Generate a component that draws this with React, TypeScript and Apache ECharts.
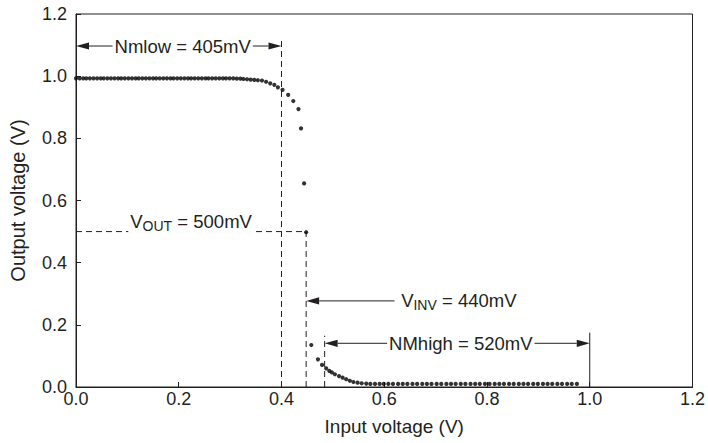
import React, { useEffect, useRef } from "react";
import * as echarts from "echarts";

// Measured transfer curve (input voltage V, output voltage V)
const inputVoltage = [
  0.000, 0.007, 0.014, 0.020, 0.027, 0.034, 0.041, 0.048, 0.054, 0.061,
  0.068, 0.075, 0.082, 0.088, 0.095, 0.102, 0.109, 0.116, 0.122, 0.129,
  0.136, 0.143, 0.150, 0.156, 0.163, 0.170, 0.177, 0.184, 0.190, 0.197,
  0.204, 0.211, 0.218, 0.224, 0.231, 0.238, 0.245, 0.252, 0.258, 0.265,
  0.272, 0.279, 0.286, 0.292, 0.299, 0.306, 0.313, 0.320, 0.326, 0.333,
  0.340, 0.347, 0.354,
  0.362, 0.370, 0.378, 0.386, 0.393, 0.402, 0.413, 0.423, 0.433, 0.438,
  0.444, 0.448, 0.458, 0.471, 0.479, 0.487, 0.493, 0.498, 0.504, 0.512,
  0.519, 0.526, 0.533, 0.540, 0.548, 0.556, 0.565, 0.573, 0.582, 0.591,
  0.599,
  0.608, 0.617, 0.627, 0.636, 0.645, 0.655, 0.664, 0.674, 0.683, 0.692,
  0.702, 0.711, 0.721, 0.730, 0.739, 0.749, 0.758, 0.768, 0.777, 0.786,
  0.796, 0.805, 0.815, 0.824, 0.833, 0.843, 0.852, 0.862, 0.871, 0.880,
  0.890, 0.899, 0.909, 0.918, 0.927, 0.937, 0.946, 0.956, 0.965, 0.975,
];
const outputVoltage = [
  0.993, 0.993, 0.993, 0.993, 0.993, 0.993, 0.993, 0.993, 0.993, 0.993,
  0.993, 0.993, 0.993, 0.993, 0.993, 0.993, 0.993, 0.993, 0.993, 0.993,
  0.993, 0.993, 0.993, 0.993, 0.993, 0.993, 0.993, 0.993, 0.993, 0.993,
  0.993, 0.993, 0.993, 0.993, 0.993, 0.993, 0.993, 0.993, 0.993, 0.993,
  0.993, 0.993, 0.993, 0.993, 0.993, 0.993, 0.992, 0.992, 0.991, 0.990,
  0.989, 0.988, 0.987,
  0.986, 0.982, 0.977, 0.972, 0.964, 0.956, 0.940, 0.920, 0.894, 0.832,
  0.655, 0.498, 0.135, 0.089, 0.071, 0.060, 0.052, 0.047, 0.041, 0.035,
  0.030, 0.025, 0.020, 0.016, 0.014, 0.012, 0.011, 0.010, 0.010, 0.010,
  0.010,
  0.010, 0.010, 0.010, 0.010, 0.010, 0.010, 0.010, 0.010, 0.010, 0.010,
  0.010, 0.010, 0.010, 0.010, 0.010, 0.010, 0.010, 0.010, 0.010, 0.010,
  0.010, 0.010, 0.010, 0.010, 0.010, 0.010, 0.010, 0.010, 0.010, 0.010,
  0.010, 0.010, 0.010, 0.010, 0.010, 0.010, 0.010, 0.010, 0.010, 0.010,
];

const xTickValues = [0, 0.2, 0.4, 0.6, 0.8, 1.0, 1.2];
const yTickValues = [0, 0.2, 0.4, 0.6, 0.8, 1.0, 1.2];

// guide lines [x1, y1, x2, y2] in data units
const dashedGuides = [
  [0.4, 0, 0.4, 1.123],
  [0, 0.5, 0.448, 0.5],
  [0.448, 0, 0.448, 0.5],
  [0.484, 0, 0.484, 0.165],
];
const solidGuides = [[1.0, 0, 1.0, 0.175]];

// arrows [x1, y1, x2, y2]; heads: "both" or "end" (head at x2,y2)
const arrowLines = [
  [0, 1.097, 0.4, 1.097],
  [0.62, 0.277, 0.448, 0.277],
  [0.484, 0.1406, 1.0, 0.1406],
];
const arrowHeads = ["both", "end", "both"];

// labels
const labelPos = [
  [0.2077, 1.097],
  [0.224, 0.532],
  [0.629, 0.277],
  [0.749, 0.1406],
];
const labelText = [
  "{a|Nmlow = 405mV}",
  "{a|V}{b|OUT}{a| = 500mV}",
  "{a|V}{b|INV}{a| = 440mV}",
  "{a|NMhigh = 520mV}",
];
const labelAlign = ["center", "center", "left", "center"];

const INK = "#231f20";
const FONT = "'Liberation Sans', Arial, Helvetica, sans-serif";

function head(tip: number[], tail: number[], L: number, W: number) {
  const dx = tip[0] - tail[0];
  const dy = tip[1] - tail[1];
  const len = Math.hypot(dx, dy) || 1;
  const ux = dx / len;
  const uy = dy / len;
  const bx = tip[0] - ux * L;
  const by = tip[1] - uy * L;
  return {
    pts: [
      [tip[0], tip[1]],
      [bx - uy * W, by + ux * W],
      [bx + uy * W, by - ux * W],
    ],
    base: [bx, by],
  };
}

export default function App() {
  const ref = useRef<HTMLDivElement>(null);
  useEffect(() => {
    if (!ref.current) return;
    const chart = echarts.init(ref.current, null, { renderer: "svg" });
    const points = inputVoltage.map((x, i) => [x, outputVoltage[i]]);

    const option: any = {
      animation: false,
      backgroundColor: "#ffffff",
      textStyle: { fontFamily: FONT, color: INK },
      grid: {
        left: 71,
        right: 12,
        top: 14,
        bottom: 56,
        show: true,
        borderColor: INK,
        borderWidth: 1,
        backgroundColor: "transparent",
      },
      xAxis: {
        type: "value",
        min: 0,
        max: 1.2,
        interval: 0.2,
        name: "Input voltage (V)",
        nameLocation: "middle",
        nameGap: 30,
        nameTextStyle: { fontSize: 19, color: INK, fontFamily: FONT, padding: [0, 0, 0, 20] },
        axisLine: { show: true, lineStyle: { color: INK, width: 1 } },
        axisTick: { show: true, inside: true, length: 5, lineStyle: { color: INK } },
        axisLabel: {
          fontSize: 18,
          color: INK,
          fontFamily: FONT,
          margin: 3,
          formatter: (v: number) => (xTickValues.some((t) => Math.abs(t - v) < 1e-9) ? v.toFixed(1) : ""),
        },
        splitLine: { show: false },
      },
      yAxis: {
        type: "value",
        min: 0,
        max: 1.2,
        interval: 0.2,
        name: "Output voltage (V)",
        nameLocation: "middle",
        nameGap: 48,
        nameTextStyle: { fontSize: 20, color: INK, fontFamily: FONT },
        axisLine: { show: true, lineStyle: { color: INK, width: 1 } },
        axisTick: { show: true, inside: true, length: 5, lineStyle: { color: INK } },
        axisLabel: {
          fontSize: 18,
          color: INK,
          fontFamily: FONT,
          margin: 9,
          formatter: (v: number) => (yTickValues.some((t) => Math.abs(t - v) < 1e-9) ? v.toFixed(1) : ""),
        },
        splitLine: { show: false },
      },
      series: [
        {
          type: "custom",
          name: "guides",
          clip: false,
          silent: true,
          data: dashedGuides.map((g, i) => [...g, i]),
          encode: { x: [0, 2], y: [1, 3] },
          renderItem: (params: any, api: any) => {
            const g = dashedGuides[params.dataIndex];
            const p1 = api.coord([g[0], g[1]]);
            const p2 = api.coord([g[2], g[3]]);
            return {
              type: "line",
              shape: { x1: p1[0], y1: p1[1], x2: p2[0], y2: p2[1] },
              style: { stroke: INK, lineWidth: 1, lineDash: [6, 4] },
            };
          },
          z: 2,
        },
        {
          type: "custom",
          name: "solid",
          clip: false,
          silent: true,
          data: solidGuides.map((g, i) => [...g, i]),
          encode: { x: [0, 2], y: [1, 3] },
          renderItem: (params: any, api: any) => {
            const g = solidGuides[params.dataIndex];
            const p1 = api.coord([g[0], g[1]]);
            const p2 = api.coord([g[2], g[3]]);
            return {
              type: "line",
              shape: { x1: p1[0], y1: p1[1], x2: p2[0], y2: p2[1] },
              style: { stroke: INK, lineWidth: 1 },
            };
          },
          z: 2,
        },
        {
          type: "custom",
          name: "arrows",
          clip: false,
          silent: true,
          data: arrowLines.map((g, i) => [...g, i]),
          encode: { x: [0, 2], y: [1, 3] },
          renderItem: (params: any, api: any) => {
            const g = arrowLines[params.dataIndex];
            const kind = arrowHeads[params.dataIndex];
            const p1 = api.coord([g[0], g[1]]);
            const p2 = api.coord([g[2], g[3]]);
            const L = 13;
            const W = 3.6;
            const children: any[] = [];
            const hEnd = head(p2, p1, L, W);
            let start = p1;
            if (kind === "both") {
              const hStart = head(p1, p2, L, W);
              children.push({ type: "polygon", shape: { points: hStart.pts }, style: { fill: INK } });
              start = hStart.base;
            }
            children.push({ type: "polygon", shape: { points: hEnd.pts }, style: { fill: INK } });
            children.push({
              type: "line",
              shape: { x1: start[0], y1: start[1], x2: hEnd.base[0], y2: hEnd.base[1] },
              style: { stroke: INK, lineWidth: 1 },
            });
            return { type: "group", children };
          },
          z: 3,
        },
        {
          type: "scatter",
          name: "Vout",
          data: points,
          symbol: "circle",
          symbolSize: 4.2,
          itemStyle: { color: "#000000" },
          silent: true,
          z: 5,
        },
        {
          type: "custom",
          name: "labels",
          clip: false,
          silent: true,
          data: labelPos.map((p, i) => [p[0], p[1], i]),
          encode: { x: 0, y: 1 },
          renderItem: (params: any, api: any) => {
            const i = params.dataIndex;
            const p = api.coord(labelPos[i]);
            return {
              type: "text",
              x: p[0],
              y: p[1],
              z2: 10,
              style: {
                text: labelText[i],
                align: labelAlign[i],
                verticalAlign: "middle",
                backgroundColor: "#ffffff",
                padding: [0, 2, 0, 2],
                rich: {
                  a: { fontSize: 18.5, fontFamily: FONT, fill: INK, color: INK, lineHeight: 22, verticalAlign: "middle" },
                  b: { fontSize: 14, fontFamily: FONT, fill: INK, color: INK, lineHeight: 14, verticalAlign: "bottom" },
                },
              },
            };
          },
          z: 6,
        },
      ],
    };
    chart.setOption(option);
    return () => chart.dispose();
  }, []);

  return (
    <div
      ref={ref}
      style={{ position: "fixed", left: 0, top: 0, width: 708, height: 443, background: "#fff" }}
    />
  );
}
